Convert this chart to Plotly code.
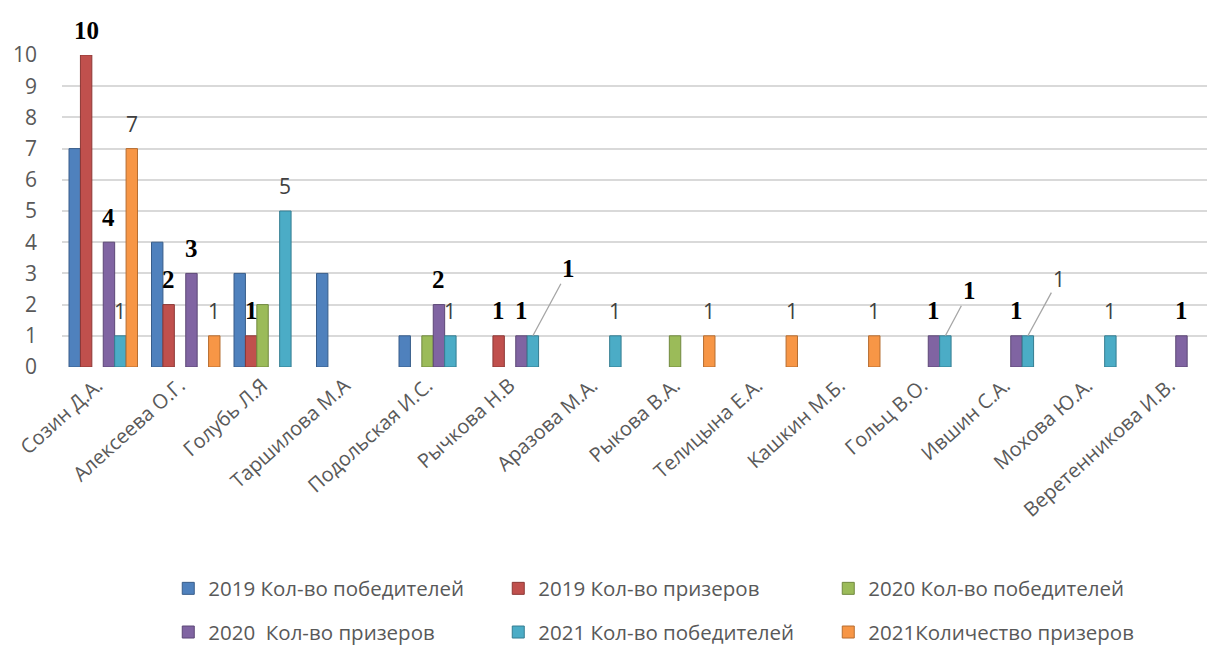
import plotly.graph_objects as go

categories = ["Созин Д.А.", "Алексеева О.Г.", "Голубь Л.Я", "Таршилова М.А",
              "Подольская И.С.", "Рычкова Н.В", "Аразова М.А.", "Рыкова В.А.",
              "Телицына Е.А.", "Кашкин М.Б.", "Гольц В.О.", "Ившин С.А.",
              "Мохова Ю.А.", "Веретенникова И.В."]

series_names = ["2019 Кол-во победителей", "2019 Кол-во призеров", "2020 Кол-во победителей",
                "2020  Кол-во призеров", "2021 Кол-во победителей", "2021Количество призеров"]

winners_2019 = [7, 4, 3, 3, 1, None, None, None, None, None, None, None, None, None]
prize_2019 = [10, 2, 1, None, None, 1, None, None, None, None, None, None, None, None]
winners_2020 = [None, None, 2, None, 1, None, None, 1, None, None, None, None, None, None]
prize_2020 = [4, 3, None, None, 2, 1, None, None, None, None, 1, 1, None, 1]
winners_2021 = [1, None, 5, None, 1, 1, 1, None, None, None, 1, 1, 1, None]
prize_2021 = [7, 1, None, None, None, None, None, 1, 1, 1, None, None, None, None]

series_values = [winners_2019, prize_2019, winners_2020, prize_2020, winners_2021, prize_2021]
colors = ["#4F81BD", "#C0504D", "#9BBB59", "#8064A2", "#4BACC6", "#F79646"]
side_colors = ["#385D8A", "#8C3836", "#71893F", "#5C4776", "#357D91", "#B66D31"]

# labelled points: (series index, category index)
bold_labels = [(1, 0), (3, 0), (1, 1), (3, 1), (1, 2), (3, 4), (1, 5), (3, 5),
               (3, 10), (3, 11), (3, 13)]
plain_labels = [(4, 0), (5, 0), (5, 1), (4, 2), (4, 4), (4, 6), (5, 7), (5, 8),
                (5, 9), (4, 12)]
# labels with leader lines: (series, category, bold?, dx px, dy px)
leader_labels = [(4, 5, True, 36, -67), (4, 10, True, 24, -45), (4, 11, False, 31, -57)]

BARGAP = 0.17
n = len(series_names)
xs = list(range(len(categories)))

fig = go.Figure()
for k, (name, vals) in enumerate(zip(series_names, series_values)):
    fig.add_trace(go.Bar(
        x=xs, y=vals, name=name,
        marker=dict(color=colors[k], line=dict(color=side_colors[k], width=1)),
        legend="legend" if k < 3 else "legend2",
        hoverinfo="y+name", cliponaxis=False,
    ))


def slot_x(series_idx, cat_idx):
    group_w = 1 - BARGAP
    return cat_idx - group_w / 2 + (series_idx + 0.5) * group_w / n


bold_font = dict(family="Liberation Serif", size=25, color="#000000")
plain_font = dict(family="Open Sans", size=21, color="#404040")

annotations = []
for s, c in bold_labels + plain_labels:
    bold = (s, c) in bold_labels
    annotations.append(dict(
        x=slot_x(s, c), y=series_values[s][c], xref="x", yref="y",
        text=f"<b>{series_values[s][c]}</b>" if bold else str(series_values[s][c]),
        showarrow=False, yshift=25, yanchor="middle", xanchor="center",
        font=bold_font if bold else plain_font,
    ))
for s, c, bold, dx, dy in leader_labels:
    annotations.append(dict(
        x=slot_x(s, c), y=series_values[s][c], xref="x", yref="y",
        text=f"<b>{series_values[s][c]}</b>" if bold else str(series_values[s][c]),
        showarrow=True, arrowhead=0, arrowwidth=1.3, arrowcolor="#A6A6A6",
        ax=dx, ay=dy, standoff=0,
        font=bold_font if bold else plain_font,
    ))

legend_common = dict(orientation="h", xanchor="left", yanchor="middle",
                     entrywidth=285, entrywidthmode="pixels",
                     font=dict(family="Open Sans", size=20.5, color="#595959"),
                     bgcolor="rgba(0,0,0,0)", traceorder="normal")

fig.update_layout(
    width=1215, height=650,
    margin=dict(l=54, r=6, t=47, b=283),
    paper_bgcolor="white", plot_bgcolor="white",
    barmode="group", bargap=BARGAP, bargroupgap=0,
    showlegend=True,
    legend=dict(x=0.092, y=-0.71, **legend_common),
    legend2=dict(x=0.092, y=-0.85, **legend_common),
    xaxis=dict(tickmode="array", tickvals=xs, ticktext=categories,
               range=[-0.5, len(categories) - 0.5], tickangle=-42,
               tickfont=dict(family="Open Sans", size=20, color="#595959"),
               showgrid=False, zeroline=False, showline=False, ticks="",
               automargin=False, ticklabelshift=-6, ticklabelstandoff=2),
    yaxis=dict(range=[0, 10], dtick=1, tick0=0,
               tickfont=dict(family="Open Sans", size=21, color="#595959"),
               gridcolor="#D9D9D9", gridwidth=2, zeroline=False, showline=False,
               ticklabelstandoff=24, automargin=False),
    annotations=annotations,
)

fig.write_html("out.html")
